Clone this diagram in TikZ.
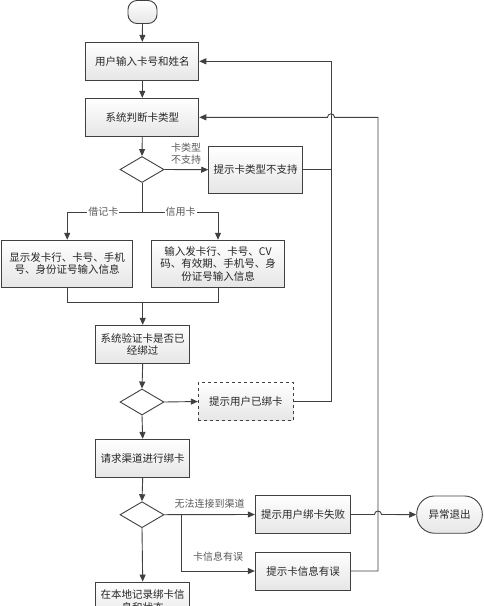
\documentclass[tikz,border=0pt]{standalone}
\usepackage{fontspec}
\setmainfont{Noto Sans CJK SC}
\usetikzlibrary{arrows.meta,shapes.geometric}
\definecolor{ln}{HTML}{404040}
\definecolor{lbl}{HTML}{5A5A5A}
\definecolor{boxbot}{HTML}{E6E6E6}
\begin{document}
\begin{tikzpicture}[x=1pt,y=-1pt,
  every node/.style={font=\fontsize{10.5}{12.5}\selectfont, text=black!85},
  box/.style={draw=ln, line width=0.9pt, top color=white, bottom color=boxbot, align=center, inner sep=0pt, minimum width=#1},
  box/.default=113pt,
  dec/.style={draw=ln, line width=0.9pt, fill=white, shape=diamond, inner sep=0pt, minimum width=44pt, minimum height=26pt},
  term/.style={draw=ln, line width=0.9pt, top color=white, bottom color=boxbot, align=center, inner sep=0pt},
  lab/.style={text=lbl, font=\fontsize{10}{11.5}\selectfont, align=center, inner sep=1pt},
  conn/.style={draw=ln, line width=0.9pt},
  arr/.style={conn, -{Triangle[length=7pt,width=6pt]}}
]
\path[use as bounding box] (0,0) rectangle (483,606);
\fill[white] (0,0) rectangle (483,606);
\clip (0,0) rectangle (483,606);

% nodes
\node[term, rounded corners=9pt, minimum width=29pt, minimum height=23pt] (start) at (142.5,12) {};
\node[box, minimum height=38pt] (b1) at (142.3,61.3) {用户输入卡号和姓名};
\node[box, minimum height=38pt] (b2) at (142.3,117.3) {系统判断卡类型};
\node[dec] (d1) at (142,169.5) {};
\node[box=93.6pt, minimum height=47pt] (nosup) at (255.5,169.7) {提示卡类型不支持};
\node[box=131pt, minimum height=47pt] (debit) at (67.2,263.7) {显示发卡行、卡号、手机\\号、身份证号输入信息};
\node[box=132.6pt, minimum height=47pt] (credit) at (218,263.7) {输入发卡行、卡号、CV\\码、有效期、手机号、身\\份证号输入信息};
\node[box=94pt, minimum height=38pt] (verify) at (142.7,344.3) {系统验证卡是否已\\经绑过};
\node[dec] (d2) at (142,402) {};
\node[draw=ln, line width=0.9pt, dashed, top color=white, bottom color=boxbot, inner sep=0pt, minimum width=95pt, minimum height=38.4pt] (bound) at (245.8,401.5) {提示用户已绑卡};
\node[box=94pt, minimum height=38pt] (req) at (142.7,458.3) {请求渠道进行绑卡};
\node[dec] (d3) at (142,514.7) {};
\node[box=95.4pt, minimum height=37.6pt] (fail) at (303,514.5) {提示用户绑卡失败};
\node[term, rounded corners=18pt, minimum width=65.6pt, minimum height=37.3pt] (exit) at (449.5,514.6) {异常退出};
\node[box=95.4pt, minimum height=38pt] (info) at (303,571) {提示卡信息有误};
\node[box=94pt, minimum height=38pt] (rec) at (142.7,601) {在本地记录绑卡信\\息和状态};

% helper coordinates
\coordinate (r1a) at (331,169.7);
\coordinate (r1b) at (331,401.5);
\coordinate (r1t) at (331,61.3);
\coordinate (split) at (142,212);
\coordinate (sl) at (67.2,212);
\coordinate (sr) at (218,212);
\coordinate (ml) at (67.2,302.3);
\coordinate (mr) at (218,302.3);
\coordinate (mm) at (142.7,302.3);
\coordinate (br) at (181,514.6);
\coordinate (bb) at (181,571);
\coordinate (r2b) at (378,571);
\coordinate (r2t) at (378,117.3);
\coordinate (hop1) at (334.5,117.3);
\coordinate (hop2) at (374.5,514.5);

% connectors
\draw[arr] (start.south) -- (b1.north);
\draw[arr] (b1.south) -- (b2.north);
\draw[arr] (b2.south) -- (d1.north);
\draw[arr] (d1.east) -- (nosup.west);
\draw[arr] (nosup.east) -- (r1a) -- (r1t) -- (b1.east);
\draw[conn] (bound.east) -- (r1b) -- (r1a);
\draw[conn] (d1.south) -- (split);
\draw[conn] (sl) -- (sr);
\draw[arr] (sl) -- (debit.north);
\draw[arr] (sr) -- (credit.north);
\draw[conn] (debit.south) -- (ml) -- (mr) -- (credit.south);
\draw[arr] (mm) -- (verify.north);
\draw[arr] (verify.south) -- (d2.north);
\draw[arr] (d2.east) -- (bound.west);
\draw[arr] (d2.south) -- (req.north);
\draw[arr] (req.south) -- (d3.north);
\draw[arr] (d3.east) -- (fail.west);
\draw[arr] (br) -- (bb) -- (info.west);
\draw[arr] (d3.south) -- (rec.north);
\draw[arr] (fail.east) -- (hop2) arc[start angle=180, end angle=0, radius=3.5pt] -- (exit.west);
\draw[arr] (info.east) -- (r2b) -- (r2t) -- (hop1) arc[start angle=0, end angle=180, radius=3.5pt] -- (b2.east);

% labels
\node[lab] (l1) at (186,153.5) {卡类型\\不支持};
\node[lab, fill=white] (l2) at (103.3,212) {借记卡};
\node[lab, fill=white] (l3) at (180.5,212) {信用卡};
\node[lab] (l4) at (209.7,504) {无法连接到渠道};
\node[lab] (l5) at (218,556.5) {卡信息有误};
\end{tikzpicture}
\end{document}
